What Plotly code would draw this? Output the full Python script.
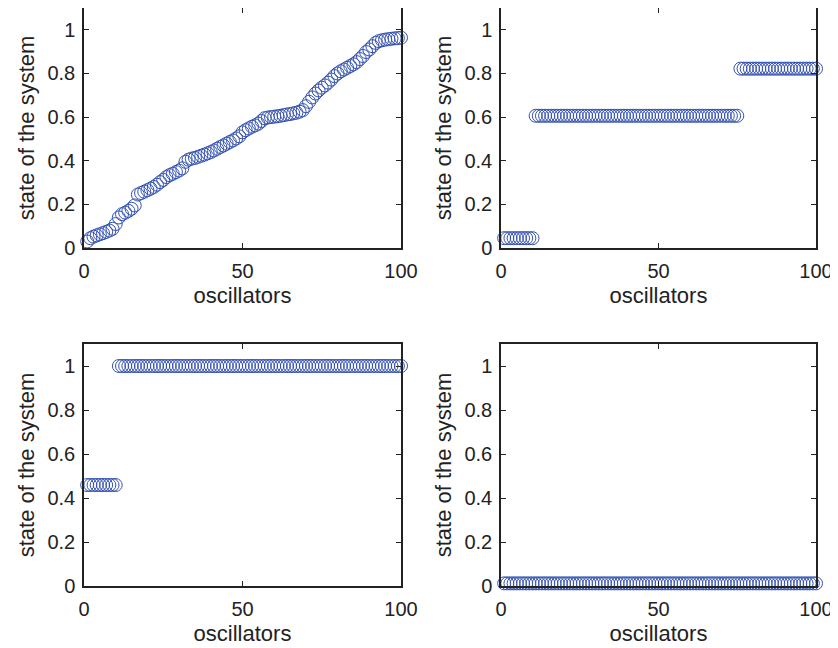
import plotly.graph_objects as go

oscillators = list(range(1, 101))

state_a = [
    0.030, 0.045, 0.052, 0.058, 0.063, 0.068, 0.074, 0.080, 0.088, 0.110,
    0.140, 0.155, 0.162, 0.170, 0.180, 0.195, 0.245, 0.252, 0.258, 0.265,
    0.272, 0.280, 0.290, 0.302, 0.312, 0.325, 0.334, 0.340, 0.348, 0.355,
    0.365, 0.395, 0.405, 0.410, 0.413, 0.418, 0.423, 0.428, 0.434, 0.440,
    0.447, 0.455, 0.463, 0.470, 0.478, 0.486, 0.493, 0.502, 0.512, 0.530,
    0.540, 0.548, 0.556, 0.562, 0.570, 0.582, 0.595, 0.598, 0.600, 0.602,
    0.604, 0.606, 0.609, 0.612, 0.614, 0.617, 0.620, 0.625, 0.632, 0.650,
    0.670, 0.690, 0.708, 0.722, 0.735, 0.745, 0.758, 0.772, 0.788, 0.800,
    0.810, 0.818, 0.826, 0.834, 0.842, 0.852, 0.866, 0.880, 0.898, 0.910,
    0.925, 0.940, 0.948, 0.952, 0.955, 0.957, 0.959, 0.961, 0.962, 0.964,
]

state_b = [0.045] * 10 + [0.606] * 65 + [0.822] * 25
state_c = [0.459] * 10 + [1.0] * 90
state_d = [0.012] * 100

x_ticks = [0, 50, 100]
y_ticks = [0, 0.2, 0.4, 0.6, 0.8, 1]
y_tick_labels = ["0", "0.2", "0.4", "0.6", "0.8", "1"]

series = [state_a, state_b, state_c, state_d]

# page body has an 8px margin, so the figure is 830x640 placed at (8, 8)
W, H = 830, 640
OFF = 8
x_domains = [[(84 - OFF) / W, (401 - OFF) / W], [(501 - OFF) / W, (816 - OFF) / W]]
y_domains = [[1 - (248 - OFF) / H, 1.0], [1 - (586 - OFF) / H, 1 - (344 - OFF) / H]]

marker_color = "#3452b0"
font_family = "Liberation Sans, Arial, Helvetica, sans-serif"

fig = go.Figure()

layout = dict(
    width=W,
    height=H,
    margin=dict(l=0, r=0, t=0, b=0),
    paper_bgcolor="white",
    plot_bgcolor="white",
    showlegend=False,
    font=dict(family=font_family, size=20, color="#222222"),
)

for i, vals in enumerate(series):
    row, col = divmod(i, 2)
    n = i + 1
    xa = "x" if n == 1 else f"x{n}"
    ya = "y" if n == 1 else f"y{n}"
    fig.add_trace(go.Scatter(
        x=oscillators, y=vals, xaxis=xa, yaxis=ya,
        mode="markers", cliponaxis=False,
        marker=dict(symbol="circle-open", size=13, color=marker_color,
                    line=dict(width=1, color=marker_color)),
    ))
    layout["xaxis" if n == 1 else f"xaxis{n}"] = dict(
        domain=x_domains[col], anchor=ya, range=[0, 100], automargin=False,
        tickvals=x_ticks, ticks="inside", ticklen=5, tickcolor="#222222",
        showline=True, linecolor="#222222", linewidth=1.5, mirror="allticks",
        showgrid=False, zeroline=False, ticklabelstandoff=4,
        tickfont=dict(size=20),
        title=dict(text="oscillators", font=dict(size=22), standoff=7),
    )
    layout["yaxis" if n == 1 else f"yaxis{n}"] = dict(
        domain=y_domains[row], anchor=xa, range=[0, 1.1], automargin=False,
        tickvals=y_ticks, ticktext=y_tick_labels, ticks="inside", ticklen=5,
        tickcolor="#222222", ticklabelstandoff=3,
        showline=True, linecolor="#222222", linewidth=1.5, mirror="allticks",
        showgrid=False, zeroline=False,
        tickfont=dict(size=20),
        title=dict(text="state of the system", font=dict(size=22), standoff=7),
    )

fig.update_layout(**layout)
fig.write_html("out.html")
